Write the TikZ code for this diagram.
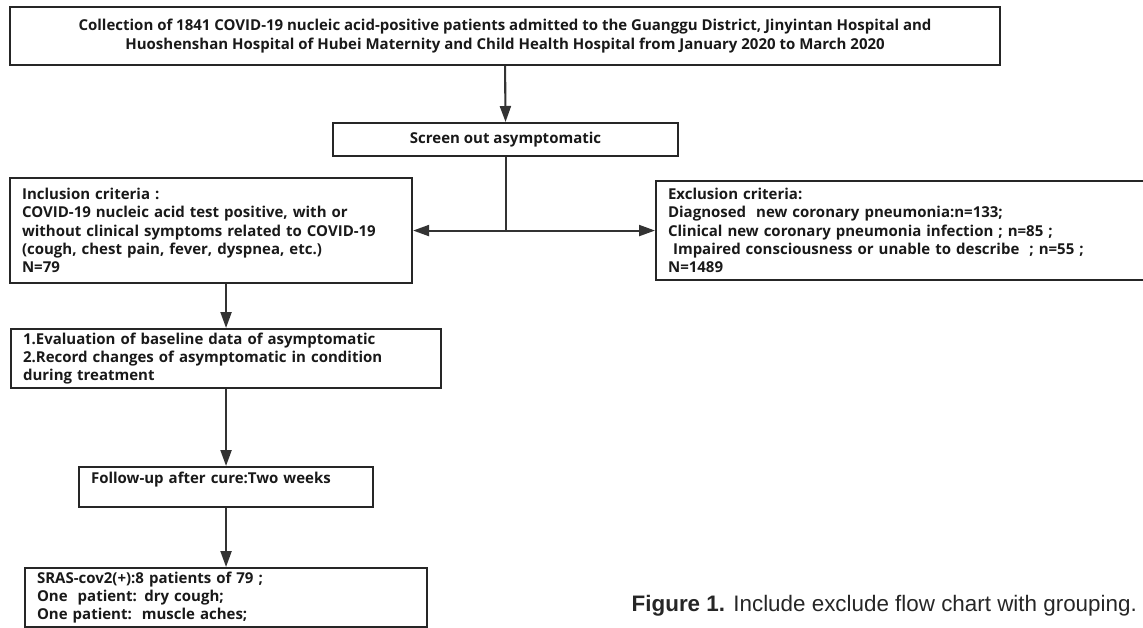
\documentclass[tikz,border=0pt]{standalone}
\usepackage{fontspec}
\setsansfont{Open Sans}
\newfontfamily\capfont{Liberation Sans}
\usetikzlibrary{arrows.meta}

\tikzset{
  box/.style={draw=black!85, line width=2.1pt, anchor=north west, inner xsep=12pt, inner ysep=0pt,
    font=\sffamily\bfseries\fontsize{15}{18.4}\selectfont, text=black!90},
  lbox/.style={box, align=left},
  link/.style={draw=black!80, line width=2.1pt},
  arr/.style={link, -{Triangle[length=16pt,width=11pt]}},
}

\begin{document}
\begin{tikzpicture}[x=1pt, y=-1pt]

  \useasboundingbox (0,0) rectangle (1143,627);
  \clip (0,0) rectangle (1143,627);

  % boxes
  \node[box, align=center, minimum width=990, minimum height=58] (collect) at (9,6)
    {Collection of 1841 COVID-19 nucleic acid-positive patients admitted to the Guanggu District, Jinyintan Hospital and\\
     Huoshenshan Hospital of Hubei Maternity and Child Health Hospital from January 2020 to March 2020};
  \node[box, align=center, minimum width=345, minimum height=33] (screen) at (332,122) {Screen out asymptomatic};

  \node[lbox, text width=378, minimum height=105] (incl) at (9,177)
    {Inclusion criteria :\\
     COVID-19 nucleic acid test positive, with or\\
     without clinical symptoms related to COVID-19\\
     (cough, chest pain, fever, dyspnea, etc.)\\
     N=79};
  \node[lbox, text width=481, minimum height=99] (excl) at (655,180)
    {Exclusion criteria:\\
     Diagnosed\ \ new coronary pneumonia:n=133;\\
     Clinical new coronary pneumonia infection ; n=85 ;\\
     \ Impaired consciousness or unable to describe\ \ ; n=55 ;\\
     N=1489};

  \node[lbox, text width=406, minimum height=59] (eval) at (10,328)
    {1.Evaluation of baseline data of asymptomatic\\
     2.Record changes of asymptomatic in condition\\
     during treatment};
  \node[lbox, text width=270, minimum height=40] (follow) at (78,466)
    {Follow-up after cure:Two weeks\\ \mbox{}};
  \node[lbox, text width=378, minimum height=59] (result) at (24,567)
    {SRAS-cov2(+):8 patients of 79 ;\\
     One\ \ patient: dry cough;\\
     One patient:\ \ muscle aches;};

  % caption
  \node[anchor=base east, inner sep=0pt, text=black!85, font=\capfont\fontsize{22.4}{26}\selectfont] (caption) at (1137,611)
    {\textbf{Figure 1.} Include exclude flow chart with grouping.};

  % arrows
  \draw[arr] (collect.south) -- (screen.north);
  \draw[link] (screen.south) -- (screen.south |- incl.east) coordinate (split);
  \draw[arr] (split) -- (incl.east);
  \draw[arr] (split) -- (split -| excl.west);
  \draw[arr] (incl.south -| eval.north) -- (eval.north);
  \draw[arr] (eval.south) -- (follow.north);
  \draw[arr] (follow.south) -- (follow.south |- result.north);

\end{tikzpicture}
\end{document}
